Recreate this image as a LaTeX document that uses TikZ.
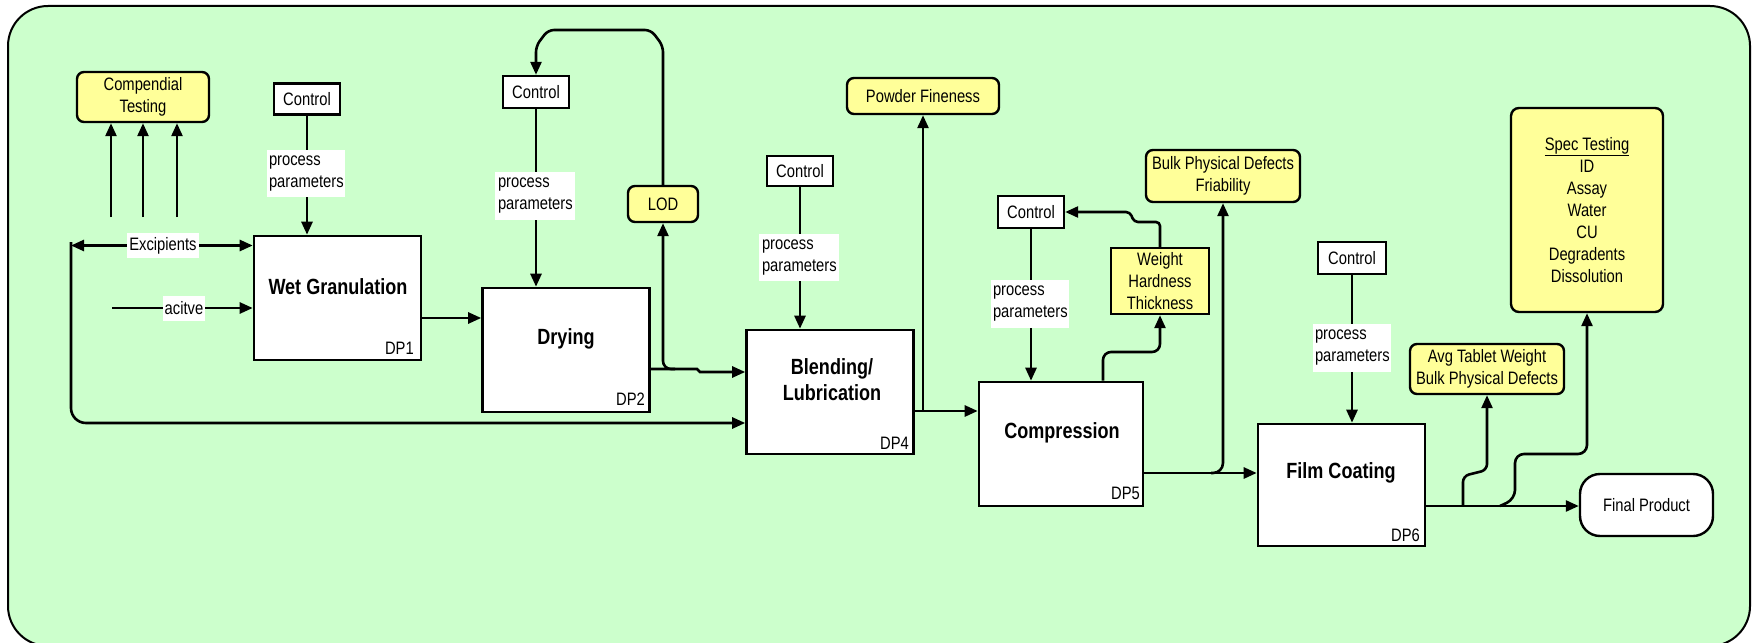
\documentclass[tikz,border=0pt]{standalone}
\usepackage{fontspec}
\setmainfont{Liberation Sans}[FakeStretch=0.82]
\usetikzlibrary{arrows.meta}
\pgfdeclarelayer{bg}
\pgfdeclarelayer{lines}
\pgfsetlayers{bg,lines,main}
\definecolor{frameg}{HTML}{CCFFCC}
\definecolor{testy}{HTML}{FFFF99}
\begin{document}
\begin{tikzpicture}[x=1pt,y=-1pt,
  every node/.style={font=\fontsize{18}{22}\selectfont, inner sep=0pt},
  conn/.style={line width=2.6pt, -{Triangle[length=13pt,width=11pt]}},
  plain/.style={line width=2.6pt},
  procbox/.style={draw, fill=white, line width=2.6pt, minimum width=167pt, minimum height=124pt},
  ctlbox/.style={draw, fill=white, line width=2.4pt, minimum width=66pt, minimum height=31pt},
  ppl/.style={fill=white, minimum width=78pt, minimum height=47pt, text width=74pt, align=left},
  lbl/.style={fill=white, minimum height=25pt},
  testbox/.style={draw, fill=testy, line width=2.4pt, rounded corners=7pt, align=center},
  ttl/.style={font=\fontsize{22}{26}\selectfont\bfseries, align=center},
  dp/.style={anchor=east}
]
\useasboundingbox (0,0) rectangle (1752,642);
\begin{pgfonlayer}{bg}
\fill[white] (0,0) rectangle (1752,642);
\clip (0,0) rectangle (1752,642);
\draw[fill=frameg, line width=2pt, rounded corners=40pt] (8,6) rectangle (1750,646);
\end{pgfonlayer}

% nodes
\node[testbox, minimum width=132pt, minimum height=50pt] (compend) at (143,97) {Compendial\\Testing};
\node[ctlbox] (ctlA) at (307,99) {Control};
\node[ppl] (ppA) at (306,173.5) {process\\parameters};
\node[procbox] (wg) at (337.5,298) {};
\node[ttl] (wgT) at (338,287) {Wet Granulation};
\node[dp] (wgD) at (414,348) {DP1};
\node[lbl, minimum width=72pt] (exc) at (163,245.5) {Excipients};
\node[lbl, minimum width=42pt] (act) at (184,308) {acitve};

\node[ctlbox, minimum height=32pt] (ctlB) at (536,92) {Control};
\node[ppl, minimum width=80pt, minimum height=48pt] (ppB) at (535,196) {process\\parameters};
\node[procbox] (dry) at (566,350) {};
\node[ttl] (dryT) at (566,339) {Drying};
\node[dp] (dryD) at (645,399) {DP2};
\node[testbox, minimum width=70pt, minimum height=36pt] (lod) at (663,204) {LOD};

\node[ctlbox, minimum height=30pt] (ctlC) at (800,171) {Control};
\node[ppl, minimum width=80pt] (ppC) at (799,257.5) {process\\parameters};
\node[procbox] (blend) at (830,392) {};
\node[ttl] (blendT) at (832,380) {Blending/\\Lubrication};
\node[dp] (blendD) at (909,443) {DP4};
\node[testbox, minimum width=152pt, minimum height=36pt] (powder) at (923,96) {Powder Fineness};

\node[ctlbox, minimum height=32pt] (ctlD) at (1031,212) {Control};
\node[ppl, minimum height=48pt] (ppD) at (1030,304) {process\\parameters};
\node[procbox, minimum width=164pt] (cmp) at (1061,444) {};
\node[ttl] (cmpT) at (1062,433) {Compression};
\node[dp] (cmpD) at (1140,493) {DP5};
\node[draw, fill=testy, line width=2.4pt, minimum width=98pt, minimum height=66pt, align=center] (wht) at (1160,281) {Weight\\Hardness\\Thickness};
\node[testbox, minimum width=154pt, minimum height=52pt] (bulk) at (1223,176) {Bulk Physical Defects\\Friability};

\node[ctlbox, minimum width=68pt, minimum height=32pt] (ctlE) at (1352,258) {Control};
\node[ppl, minimum height=48pt] (ppE) at (1352,348) {process\\parameters};
\node[procbox, minimum height=122pt] (fc) at (1341.5,485) {};
\node[ttl] (fcT) at (1341,473) {Film Coating};
\node[dp] (fcD) at (1420,535) {DP6};
\node[testbox, minimum width=154pt, minimum height=50pt] (avg) at (1487,369) {Avg Tablet Weight\\Bulk Physical Defects};
\node[testbox, minimum width=152pt, minimum height=204pt, rounded corners=8pt] (spec) at (1587,210) {\underline{Spec Testing}\\ID\\Assay\\Water\\CU\\Degradents\\Dissolution};
\node[draw, fill=white, line width=2.4pt, rounded corners=20pt, minimum width=133pt, minimum height=62pt] (final) at (1646.5,505) {Final Product};

% connectors
\begin{pgfonlayer}{lines}
\foreach \i/\xx in {1/111,2/143,3/177} {
  \coordinate (up\i) at (\xx,217);
  \draw[conn] (up\i) -- (up\i |- compend.south);
}
\coordinate (lt) at (71,242);
\draw[conn] (exc.west) -- (exc.west -| lt);
\draw[conn] (exc.east) -- (exc.east -| wg.west);
\coordinate (bl) at (71,423);
\draw[conn, rounded corners=15pt] (lt) -- (bl) -- (bl -| blend.west);
\coordinate (a0) at (112,308);
\draw[plain] (a0) -- (act.west);
\draw[conn] (act.east) -- (act.east -| wg.west);
\draw[conn] (ctlA.south) -- (ctlA.south |- wg.north);
\coordinate (w1) at ([yshift=-20pt]wg.east);
\draw[conn] (w1) -- (w1 -| dry.west);

\draw[conn] (ctlB.south) -- (ctlB.south |- dry.north);
\draw[conn, rounded corners=6pt] (lod.north) -- (663,46) -- (651,30) -- (548,30) -- (536,46) -- (ctlB.north);
\coordinate (d1) at ([yshift=-19pt]dry.east);
\coordinate (d2) at ([yshift=20pt]blend.west);
\draw[conn] (d1) -- (697,369) -- (700,372) -- (d2);
\coordinate (d3) at (675,369);
\draw[conn, rounded corners=8pt] (d3) -- (663,369) -- (lod.south);

\draw[conn] (ctlC.south) -- (ctlC.south |- blend.north);
\coordinate (b1) at ([yshift=-19pt]blend.east);
\draw[conn] (b1) -- (b1 -| cmp.west);
\coordinate (pj) at (923,411);
\draw[conn] (pj) -- (powder.south);

\draw[conn] (ctlD.south) -- (ctlD.south |- cmp.north);
\coordinate (c1) at ([xshift=42pt]cmp.north);
\draw[conn, rounded corners=8pt] (c1) -- (1103,352) -- (1160,352) -- (wht.south);
\draw[conn, rounded corners=4pt] (wht.north) -- (1160,222) -- (1134,222) -- (1130,212) -- (ctlD.east);
\coordinate (k1) at (1211,473);
\draw[conn, rounded corners=10pt] (k1) -- (1223,473) -- (bulk.south);
\coordinate (c2) at ([yshift=-29pt]cmp.east);
\draw[conn] (c2) -- (c2 -| fc.west);

\draw[conn] (ctlE.south) -- (ctlE.south |- fc.north);
\coordinate (f1) at ([yshift=-21pt]fc.east);
\draw[conn] (f1) -- (f1 -| final.west);
\coordinate (f2) at (1463,506);
\draw[conn, rounded corners=6pt] (f2) -- (1463,476) -- (1487,470) -- (avg.south);
\coordinate (f3) at (1500,506);
\draw[conn, rounded corners=9pt] (f3) -- (1515,499) -- (1515,454) -- (1587,454) -- (spec.south);
\end{pgfonlayer}
\end{tikzpicture}
\end{document}
